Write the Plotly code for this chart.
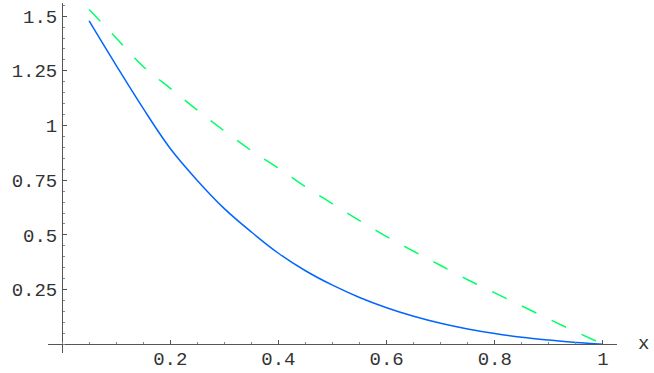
import plotly.graph_objects as go

# values
x_vals = [0.05, 0.1, 0.15, 0.2, 0.25, 0.3, 0.35, 0.4, 0.45, 0.5,
          0.55, 0.6, 0.65, 0.7, 0.75, 0.8, 0.85, 0.9, 0.95, 1.0]
solid_vals = [1.478, 1.275, 1.078, 0.895, 0.749, 0.62, 0.513, 0.416, 0.336, 0.27,
              0.214, 0.167, 0.128, 0.096, 0.07, 0.049, 0.032, 0.019, 0.008, 0.0]
dashed_vals = [1.53, 1.40, 1.27, 1.17, 1.07, 0.975, 0.885, 0.805, 0.72, 0.642,
               0.565, 0.492, 0.425, 0.36, 0.295, 0.235, 0.175, 0.115, 0.057, 0.0]

x_ticks = [0.2, 0.4, 0.6, 0.8, 1.0]
x_labels = ["0.2", "0.4", "0.6", "0.8", "1"]
y_ticks = [0.25, 0.5, 0.75, 1.0, 1.25, 1.5]
y_labels = ["0.25", "0.5", "0.75", "1", "1.25", "1.5"]

X_RANGE = [-0.026, 1.026]
Y_RANGE = [-0.04, 1.56]
FONT = dict(family="Liberation Mono, Courier New, monospace", size=19, color="#333")
AXIS_COLOR = "#555"

fig = go.Figure()
fig.add_trace(go.Scatter(x=x_vals, y=dashed_vals, mode="lines",
                         line=dict(color="#00ff66", width=1.5, dash="16px,17px",
                                   shape="spline", smoothing=1.0)))
fig.add_trace(go.Scatter(x=x_vals, y=solid_vals, mode="lines",
                         line=dict(color="#0066ff", width=1.5,
                                   shape="spline", smoothing=1.0)))

# axes cross at the origin, Mathematica style
x_pos = (0 - Y_RANGE[0]) / (Y_RANGE[1] - Y_RANGE[0])
y_pos = (0 - X_RANGE[0]) / (X_RANGE[1] - X_RANGE[0])

axis_common = dict(showgrid=False, zeroline=False, automargin=False,
                   showline=True, linecolor=AXIS_COLOR, linewidth=1,
                   ticks="inside", ticklen=4, tickcolor=AXIS_COLOR,
                   ticklabeloverflow="allow", tickfont=FONT)

fig.update_layout(
    width=654, height=373,
    margin=dict(l=48, r=37, t=3, b=20),
    paper_bgcolor="white", plot_bgcolor="white",
    showlegend=False,
    font=FONT,
    xaxis=dict(range=X_RANGE, anchor="free", position=x_pos,
               tickvals=x_ticks, ticktext=x_labels, ticklabelstandoff=-3,
               minor=dict(dtick=0.05, tick0=0, ticks="inside", ticklen=2,
                          tickcolor="#888", showgrid=False),
               **axis_common),
    yaxis=dict(range=Y_RANGE, anchor="free", position=y_pos,
               tickvals=y_ticks, ticktext=y_labels, ticklabelstandoff=1,
               minor=dict(dtick=0.05, tick0=0, ticks="inside", ticklen=2,
                          tickcolor="#888", showgrid=False),
               **axis_common),
)

fig.add_annotation(text="x", xref="paper", yref="paper", x=1.046, y=x_pos,
                   showarrow=False, xanchor="center", yanchor="middle",
                   font=FONT)

# drop the browser's default body margin so the figure fills the window exactly
fig.write_html("out.html",
               config={"displayModeBar": False},
               post_script="document.body.style.margin='0';"
                           "document.body.style.overflow='hidden';")
